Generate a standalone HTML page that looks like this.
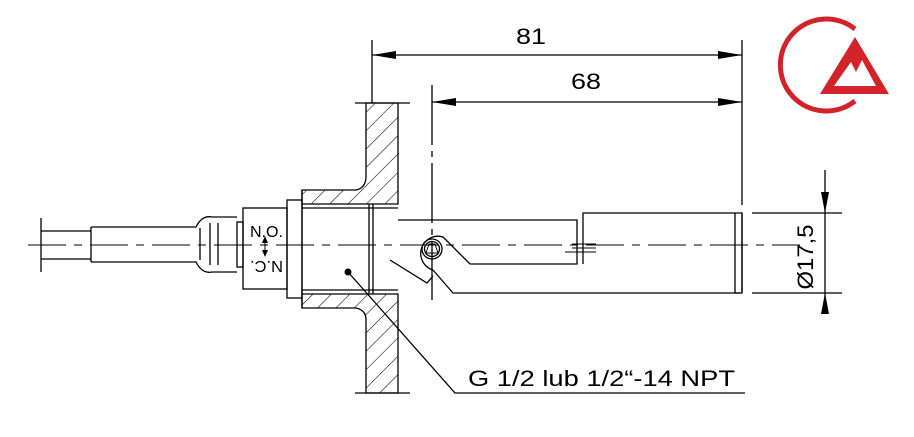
<!DOCTYPE html>
<html><head><style>
html,body{margin:0;padding:0;background:#fff;}
svg{display:block;}
text{font-family:"Liberation Sans",sans-serif;fill:#000;}
</style></head><body>
<svg width="914" height="437" viewBox="0 0 914 437" xmlns="http://www.w3.org/2000/svg">
<defs>
<pattern id="h" width="13" height="13" patternUnits="userSpaceOnUse" patternTransform="rotate(45)">
<line x1="0" y1="0" x2="0" y2="13" stroke="#000" stroke-width="1.1"/>
</pattern>
</defs>
<g fill="none" stroke="#000" stroke-width="1.3">
<path d="M366,103 H398 V204 H302 V190 H356 Q366,188 366,176 Z" fill="url(#h)"/>
<path d="M366,393 H398 V294 H302 V308 H356 Q366,310 366,320 Z" fill="url(#h)"/>
<line x1="302" y1="208" x2="398" y2="208"/>
<line x1="302" y1="290" x2="398" y2="290"/>
<line x1="302" y1="190" x2="302" y2="308"/>
<line x1="355" y1="103" x2="410" y2="103"/>
<line x1="355" y1="393" x2="410" y2="393"/>
<line x1="369" y1="204" x2="369" y2="294"/>
<line x1="373" y1="204" x2="373" y2="294"/>
<line x1="41" y1="218" x2="41" y2="272"/>
<path d="M41,231 H91 M41,259 H91"/>
<path d="M91,227 V262 M91,227 H196 Q202,215 212,217 H237 M91,262 H196 Q202,274 212,272 H237"/>
<path d="M200,228 V260 M210,223 V265 M218,223 V265"/>
<rect x="237" y="222" width="6" height="45"/>
<rect x="243" y="208" width="44" height="81"/>
<rect x="287" y="200" width="15" height="98"/>
<path d="M398,220 H577 V264 H470"/>
<path d="M390,260 L427,283 L433,276"/>
<path d="M433,270 A17,17 0 1 1 443,237 L470,264"/>
<path d="M433,270 L453,293 H740"/>
<circle cx="432" cy="249" r="10"/>
<circle cx="432" cy="249" r="7.5"/>
<path d="M426,253 L429,244 L435,244 L438,253 Z" stroke-width="0.9"/>
<line x1="432" y1="244" x2="432" y2="256" stroke-width="0.8"/>
<path d="M583,264 V213 H742 V293 H735 V213"/>
<line x1="742" y1="213" x2="742" y2="293"/>
<path d="M572,244 H596 M572,248 H596 M565,252 H596" stroke-width="1"/>
<line x1="28" y1="245" x2="800" y2="245" stroke-width="1" stroke-dasharray="38,8,8,8"/>
<line x1="372" y1="40" x2="372" y2="103"/>
<line x1="742" y1="40" x2="742" y2="205"/>
<line x1="372" y1="55" x2="742" y2="55"/>
<line x1="432" y1="85" x2="432" y2="300" stroke-dasharray="60,6,6,6"/>
<line x1="432" y1="102" x2="742" y2="102"/>
<line x1="752" y1="213" x2="842" y2="213"/>
<line x1="752" y1="293" x2="842" y2="293"/>
<line x1="825" y1="170" x2="825" y2="312"/>
<path d="M348,272 L455,393 H745"/>
</g>
<g fill="#000">
<path d="M372,55 L396,51 L396,59 Z"/>
<path d="M742,55 L718,51 L718,59 Z"/>
<path d="M432,102 L456,98 L456,106 Z"/>
<path d="M742,102 L718,98 L718,106 Z"/>
<path d="M825,213 L821,192 L829,192 Z"/>
<path d="M825,293 L821,314 L829,314 Z"/>
<circle cx="348" cy="272" r="3.5"/>
<path d="M265,236 L262,243 L268,243 Z M265,257 L262,250 L268,250 Z"/>
<line x1="265" y1="240" x2="265" y2="253" stroke="#000" stroke-width="1"/>
</g>
<text x="250" y="237" font-size="16" textLength="33" lengthAdjust="spacingAndGlyphs">N.O.</text>
<text x="0" y="0" font-size="16" textLength="33" lengthAdjust="spacingAndGlyphs" transform="translate(283,261) rotate(180)">N.C.</text>
<text x="516" y="44" font-size="22" textLength="30" lengthAdjust="spacingAndGlyphs">81</text>
<text x="571" y="89" font-size="22" textLength="30" lengthAdjust="spacingAndGlyphs">68</text>
<text x="0" y="0" font-size="22" text-anchor="middle" textLength="65" lengthAdjust="spacingAndGlyphs" transform="translate(813,257) rotate(-90)">Ø17,5</text>
<text x="468" y="386" font-size="22" textLength="267" lengthAdjust="spacingAndGlyphs">G 1/2 lub 1/2“-14 NPT</text>
<g fill="none" stroke="#d2232a" stroke-width="5">
<path d="M855,29 A46,46 0 1 0 855,101"/>
</g>
<path d="M855,37 L889,94 L820,94 Z M834,86 H876 L862,60 L856,72 L851,62 Z" fill="#d2232a" fill-rule="evenodd"/>
</svg>
</body></html>
